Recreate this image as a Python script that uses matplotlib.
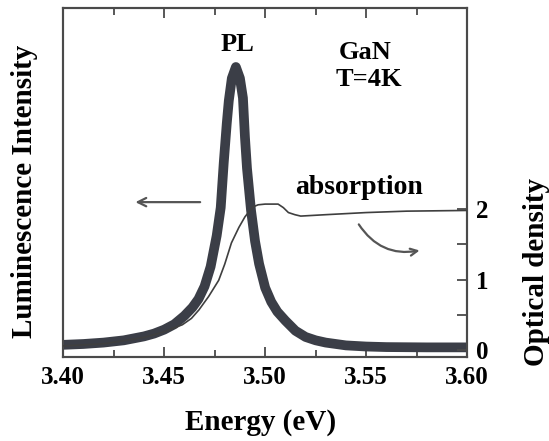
import numpy as np
import matplotlib
matplotlib.use("Agg")
import matplotlib.pyplot as plt
from matplotlib.ticker import MultipleLocator, FixedLocator

plt.rcParams["font.family"] = ["Liberation Serif", "DejaVu Serif"]
plt.rcParams["font.weight"] = "bold"
plt.rcParams["axes.labelweight"] = "bold"

# ---------------------------------------------------------------------------
# Data
# ---------------------------------------------------------------------------
# PL spectrum (arbitrary units, peak = 100)
pl_energy = [3.400, 3.410, 3.420, 3.430, 3.440, 3.445, 3.450, 3.455, 3.460,
             3.464, 3.467, 3.470, 3.473, 3.476, 3.478, 3.4795, 3.481, 3.482,
             3.4835, 3.4855, 3.4875, 3.489, 3.490, 3.491, 3.493, 3.495, 3.497,
             3.500, 3.503, 3.506, 3.510, 3.515, 3.520, 3.525, 3.530, 3.540,
             3.550, 3.560, 3.580, 3.600]
pl_intensity = [1.2, 1.5, 2.0, 2.8, 4.2, 5.2, 6.6, 8.5, 11.5,
                14.5, 17.5, 22.0, 29.0, 40.0, 50.0, 66.0, 80.0, 88.0,
                96.0, 100.0, 96.0, 89.0, 75.0, 64.0, 49.0, 38.0, 30.0,
                21.5, 16.5, 13.0, 9.8, 6.2, 4.0, 2.8, 2.0, 1.0,
                0.6, 0.4, 0.3, 0.3]

# Absorption spectrum (optical density)
abs_energy = [3.400, 3.420, 3.440, 3.450, 3.459, 3.4635, 3.4672, 3.4720,
              3.477, 3.480, 3.4833, 3.4870, 3.490, 3.4925, 3.494, 3.4965,
              3.500, 3.5064, 3.509, 3.5115, 3.5147, 3.5176, 3.530, 3.550,
              3.570, 3.600]
abs_od = [0.06, 0.09, 0.18, 0.26, 0.36, 0.45, 0.57, 0.76,
          0.99, 1.22, 1.52, 1.74, 1.89, 1.98, 2.03, 2.06,
          2.07, 2.07, 2.02, 1.95, 1.92, 1.90, 1.92, 1.95,
          1.97, 1.98]

od_ticks = [0, 1, 2]
od_minor_ticks = [0.5, 1.5]
energy_ticks = [3.40, 3.45, 3.50, 3.55, 3.60]

# ---------------------------------------------------------------------------
# Figure
# ---------------------------------------------------------------------------
fig = plt.figure(figsize=(5.49, 4.41), dpi=100)
ax = fig.add_axes([0.115, 0.19, 0.736, 0.792])
ax2 = ax.twinx()

line_col = "#3b3e47"
spine_col = "#4a4a4a"

ax.plot(pl_energy, pl_intensity, color=line_col, lw=7.0,
        solid_capstyle="round", solid_joinstyle="round", zorder=3)
ax2.plot(abs_energy, abs_od, color="#3f3f3f", lw=1.2, zorder=4)

ax.set_xlim(3.40, 3.60)
ax.set_ylim(-3.2, 121)
ax2.set_ylim(-0.1, 4.85)

# ticks
ax.set_xticks(energy_ticks)
ax.set_xticklabels([f"{v:.2f}" for v in energy_ticks])
ax.xaxis.set_minor_locator(MultipleLocator(0.025))
ax.tick_params(axis="x", which="both", direction="in", top=True,
               labelsize=18, pad=6, color=spine_col, width=1.3)
ax.tick_params(axis="x", which="major", length=7)
ax.tick_params(axis="x", which="minor", length=5)
ax.set_yticks([])

ax2.set_yticks(od_ticks)
ax2.yaxis.set_minor_locator(FixedLocator(od_minor_ticks))
ax2.tick_params(axis="y", which="both", direction="in", labelsize=18,
                pad=6, color=spine_col, width=1.3, length=7)

for a in (ax, ax2):
    for s in a.spines.values():
        s.set_color(spine_col)
        s.set_linewidth(1.5)

ax.set_xlabel("Energy (eV)", fontsize=21, va="center")
ax.xaxis.set_label_coords(0.489, -0.186)
ax.set_ylabel("Luminescence Intensity", fontsize=21, va="center")
ax.yaxis.set_label_coords(-0.096, 0.476)
ax2.set_ylabel("Optical density", fontsize=21, rotation=90, va="center")
ax2.yaxis.set_label_coords(1.172, 0.243)

# annotations
ax.text(0.432, 0.894, "PL", transform=ax.transAxes, fontsize=19,
        ha="center", va="center")
ax.text(0.748, 0.871, "GaN", transform=ax.transAxes, fontsize=19,
        ha="center", va="center")
ax.text(0.756, 0.794, "T=4K", transform=ax.transAxes, fontsize=19,
        ha="center", va="center")
ax.text(0.733, 0.487, "absorption", transform=ax.transAxes, fontsize=20,
        ha="center", va="center")

ax.annotate("", xy=(0.172, 0.444), xytext=(0.346, 0.444),
            xycoords="axes fraction", textcoords="axes fraction",
            arrowprops=dict(arrowstyle="->,head_length=0.6,head_width=0.3",
                            color="#555555", lw=1.6))
ax.annotate("", xy=(0.889, 0.307), xytext=(0.728, 0.387),
            xycoords="axes fraction", textcoords="axes fraction",
            arrowprops=dict(arrowstyle="->,head_length=0.5,head_width=0.25",
                            color="#555555", lw=1.6,
                            connectionstyle="arc3,rad=0.35"))

fig.savefig("out.png", dpi=100, facecolor="white")
